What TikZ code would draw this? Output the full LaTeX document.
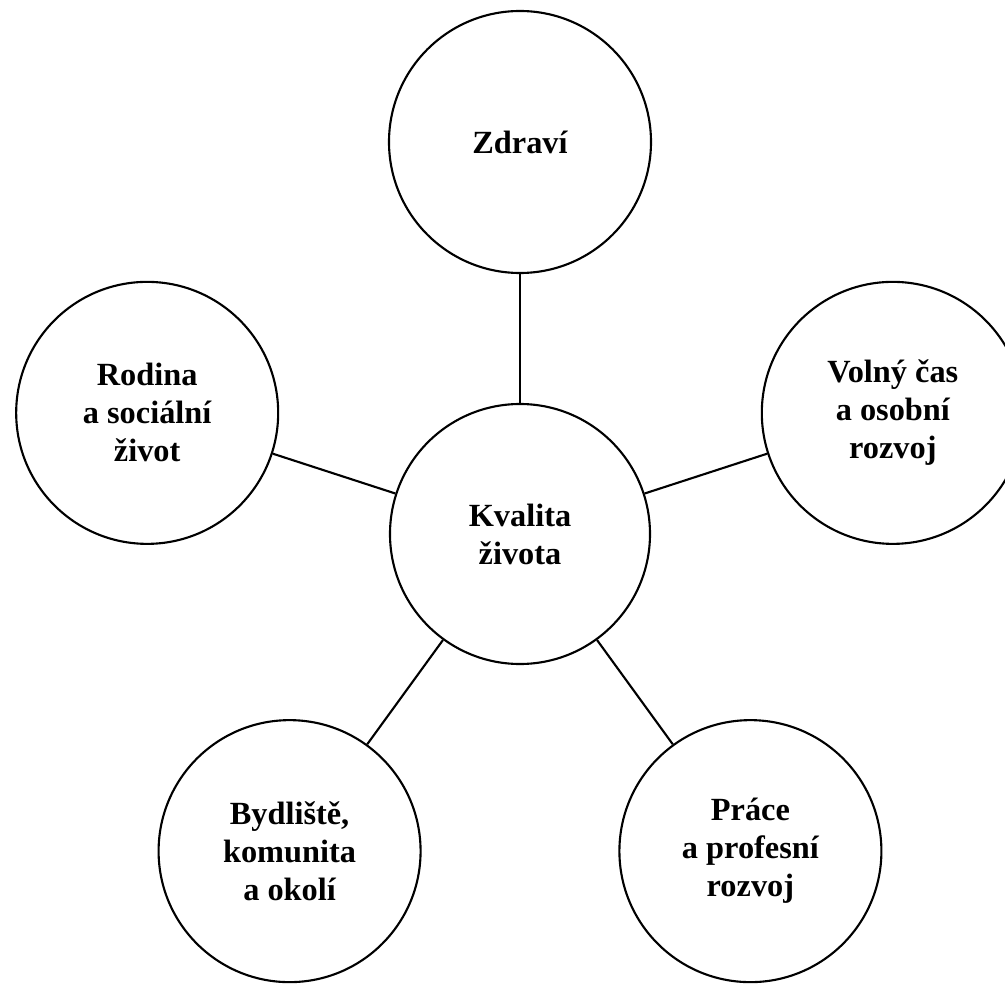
\documentclass[tikz,border=0pt]{standalone}
\usepackage{fontspec}
\setmainfont{Liberation Serif}
\begin{document}
\begin{tikzpicture}[
    kruh/.style={circle, draw, line width=1.5pt, minimum size=6.55cm, inner sep=0pt,
      align=center, font=\bfseries\fontsize{23}{27}\selectfont},
    spoj/.style={line width=1.5pt}]
    \def\vzd{9.8}
    \useasboundingbox (-13.0,-11.275) rectangle (12.125,13.35);
    \node[kruh, minimum size=6.5cm] (kvalita) at (0,0) {Kvalita\\života};
    \node[kruh] (zdravi) at (90:\vzd) {Zdraví};
    \node[kruh] (volno) at (18:\vzd) {Volný čas\\a osobní\\rozvoj};
    \node[kruh] (prace) at (306:\vzd) {Práce\\a profesní\\rozvoj};
    \node[kruh] (bydliste) at (234:\vzd) {Bydliště,\\komunita\\a okolí};
    \node[kruh] (rodina) at (162:\vzd) {Rodina\\a sociální\\život};
    \foreach \n in {zdravi,volno,prace,bydliste,rodina}
      \draw[spoj] (kvalita) -- (\n);
  \end{tikzpicture}
\end{document}
